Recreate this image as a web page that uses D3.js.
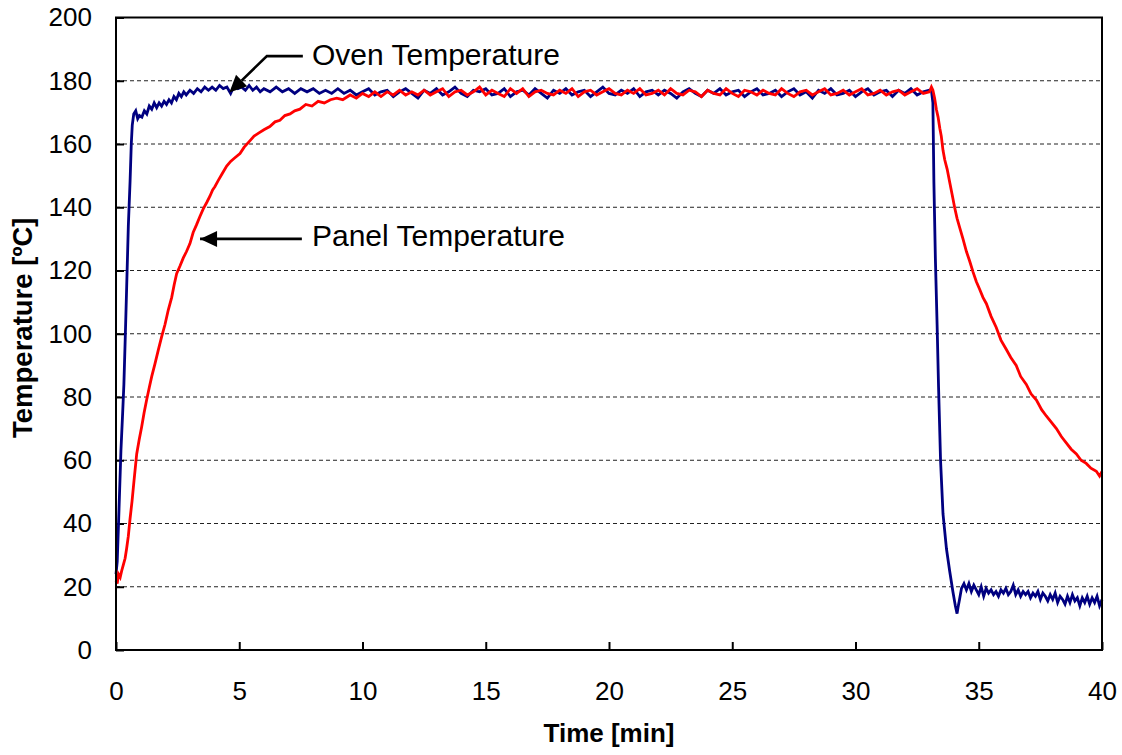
<!DOCTYPE html>
<html>
<head>
<meta charset="utf-8">
<script src="https://cdn.jsdelivr.net/npm/d3@7"></script>
<style>
  html, body { margin: 0; padding: 0; background: #fff; }
  svg { display: block; font-family: "Liberation Sans", Arial, sans-serif; }
</style>
</head>
<body>
<div id="chart"></div>
<script>
// valeurs : [temps (min), température (°C)]
const xTicks = [0, 5, 10, 15, 20, 25, 30, 35, 40];
const yTicks = [0, 20, 40, 60, 80, 100, 120, 140, 160, 180, 200];

const ovenTemp = [
  [0, 24], [0.05, 28], [0.12, 44], [0.2, 63], [0.27, 75], [0.32, 84], [0.38, 100], [0.43, 114],
  [0.5, 134], [0.57, 148], [0.62, 160], [0.66, 166], [0.72, 169.5], [0.8, 170.5], [0.88, 168],
  [0.95, 169], [1.05, 168.5], [1.15, 170.5], [1.25, 169.5], [1.35, 172], [1.45, 171], [1.55, 173],
  [1.65, 171.5], [1.75, 173], [1.85, 172], [1.95, 173.5], [2.05, 172.5], [2.15, 174], [2.25, 173],
  [2.35, 175], [2.45, 174], [2.55, 176], [2.65, 175], [2.75, 176.5], [2.85, 175.5], [3, 177],
  [3.15, 176], [3.3, 177.5], [3.45, 176.5], [3.6, 178], [3.75, 177], [3.9, 178], [4.05, 177],
  [4.2, 178.5], [4.35, 177.5], [4.5, 178], [4.65, 176], [4.8, 178.5], [4.95, 177.5], [5.1, 178],
  [5.25, 177], [5.4, 178.5], [5.55, 177], [5.7, 178], [5.85, 176.5], [6, 177.5], [6.25, 176.5],
  [6.5, 178], [6.75, 176.5], [7, 177.5], [7.25, 176], [7.5, 177.5], [7.75, 176.5], [8, 177.5],
  [8.25, 176], [8.5, 177], [8.75, 176], [9, 177.5], [9.25, 176], [9.5, 177], [9.75, 175.5],
  [10, 176.5], [10.25, 177.5], [10.5, 175.5], [10.75, 176.5], [11, 177], [11.25, 175], [11.5, 176.5],
  [11.75, 177.5], [12, 176], [12.25, 174.5], [12.5, 177], [12.75, 176], [13, 177.5], [13.25, 175.5],
  [13.5, 176.5], [13.75, 178], [14, 176], [14.25, 175], [14.5, 177], [14.75, 176.5], [15, 177.5],
  [15.25, 175.5], [15.5, 176], [15.75, 177.5], [16, 175], [16.25, 176.5], [16.5, 177], [16.75, 175.5],
  [17, 177.5], [17.25, 176], [17.5, 174.5], [17.75, 177], [18, 176], [18.25, 177.5], [18.5, 175.5],
  [18.75, 176.5], [19, 177], [19.25, 175], [19.5, 176.5], [19.75, 178], [20, 176], [20.25, 175.5],
  [20.5, 177], [20.75, 176], [21, 177.5], [21.25, 175], [21.5, 176.5], [21.75, 177], [22, 175.5],
  [22.25, 177], [22.5, 176], [22.75, 174.5], [23, 176.5], [23.25, 177.5], [23.5, 176], [23.75, 175],
  [24, 177], [24.25, 176], [24.5, 177.5], [24.75, 175.5], [25, 176.5], [25.25, 177], [25.5, 175],
  [25.75, 176.5], [26, 177.5], [26.25, 175.5], [26.5, 176], [26.75, 177], [27, 175], [27.25, 176.5],
  [27.5, 177.5], [27.75, 175.5], [28, 176.5], [28.25, 174.5], [28.5, 177], [28.75, 176], [29, 177.5],
  [29.25, 175.5], [29.5, 176], [29.75, 177], [30, 175], [30.25, 176.5], [30.5, 177.5], [30.75, 175.5],
  [31, 176.5], [31.25, 177], [31.5, 175], [31.75, 177], [32, 176], [32.25, 177.5], [32.5, 175.5],
  [32.75, 176.5], [33, 177], [33.08, 177], [33.14, 173], [33.18, 148], [33.24, 124], [33.31, 103],
  [33.37, 83], [33.45, 60], [33.55, 43], [33.69, 32], [33.82, 25], [33.95, 18.5], [34.05, 14],
  [34.12, 11.5], [34.16, 13.5], [34.22, 16], [34.3, 19.5], [34.4, 21], [34.5, 19], [34.6, 21],
  [34.7, 18.5], [34.8, 20.5], [34.9, 19], [35, 17.5], [35.1, 20], [35.2, 17], [35.3, 19.5], [35.4, 18],
  [35.5, 19], [35.6, 17.5], [35.7, 18.5], [35.8, 17], [35.9, 19], [36, 18], [36.1, 19.5], [36.2, 17.5],
  [36.3, 18.5], [36.4, 20.5], [36.5, 17.5], [36.6, 19], [36.7, 17], [36.8, 18.5], [36.9, 17.5],
  [37, 18.5], [37.1, 16.5], [37.2, 18], [37.3, 17], [37.4, 18.5], [37.5, 16], [37.6, 18], [37.7, 17],
  [37.8, 15.5], [37.9, 17.5], [38, 16], [38.1, 18], [38.2, 15], [38.3, 17], [38.4, 16], [38.5, 14.5],
  [38.6, 17], [38.7, 15], [38.8, 17.5], [38.9, 15.5], [39, 16.5], [39.1, 14], [39.2, 16.5], [39.3, 15],
  [39.4, 17], [39.5, 14.5], [39.6, 16.5], [39.7, 15], [39.8, 17], [39.9, 14], [40, 16]
];

const panelTemp = [
  [0, 22], [0.05, 21], [0.1, 24], [0.17, 23], [0.23, 25], [0.3, 27], [0.37, 29], [0.43, 32], [0.5, 36],
  [0.57, 41.5], [0.65, 47], [0.73, 53.5], [0.84, 62], [0.94, 66.5], [1.04, 70.5], [1.14, 75], [1.24, 79],
  [1.35, 83], [1.45, 86.5], [1.58, 90.5], [1.72, 95], [1.85, 99], [1.99, 103], [2.12, 107.5],
  [2.26, 111.5], [2.36, 115.5], [2.46, 119], [2.6, 121.5], [2.73, 124], [2.86, 126], [3, 128.5],
  [3.13, 132], [3.27, 134.5], [3.4, 137], [3.54, 139.5], [3.68, 141.5], [3.81, 143.5], [3.92, 145.5],
  [4.01, 146.5], [4.15, 148.5], [4.3, 150.5], [4.49, 153], [4.65, 154.5], [4.8, 155.5], [5.03, 157],
  [5.2, 159], [5.43, 161], [5.6, 162.5], [5.8, 163.5], [6, 164.5], [6.24, 165.5], [6.45, 167],
  [6.65, 167.5], [6.85, 169], [7.06, 169.5], [7.25, 170.5], [7.46, 171], [7.7, 172.5], [7.95, 172],
  [8.2, 173.5], [8.45, 173], [8.7, 174], [8.95, 174.5], [9.2, 174], [9.5, 175.5], [9.75, 174.5],
  [10, 176], [10.25, 175], [10.5, 176.5], [10.75, 175], [11, 176.5], [11.25, 175.5], [11.5, 177],
  [11.75, 175.5], [12, 176.5], [12.25, 175.5], [12.5, 177], [12.75, 175.5], [13, 176.5], [13.25, 177.5],
  [13.5, 175], [13.75, 176.5], [14, 177], [14.25, 175.5], [14.5, 176.5], [14.75, 178], [15, 175.5],
  [15.25, 177], [15.5, 176], [15.75, 175], [16, 177.5], [16.25, 176], [16.5, 177.5], [16.75, 175],
  [17, 176.5], [17.25, 177], [17.5, 176], [17.75, 175.5], [18, 177], [18.25, 176], [18.5, 177.5],
  [18.75, 175], [19, 176.5], [19.25, 177], [19.5, 175.5], [19.75, 176.5], [20, 177.5], [20.25, 176],
  [20.5, 175.5], [20.75, 177], [21, 176], [21.25, 177.5], [21.5, 175.5], [21.75, 176], [22, 177],
  [22.25, 175.5], [22.5, 177.5], [22.75, 176], [23, 175.5], [23.25, 177], [23.5, 176.5], [23.75, 175],
  [24, 177], [24.25, 176], [24.5, 175.5], [24.75, 177.5], [25, 176], [25.25, 175], [25.5, 177],
  [25.75, 176.5], [26, 175.5], [26.25, 177], [26.5, 176], [26.75, 175.5], [27, 177.5], [27.25, 176],
  [27.5, 175], [27.75, 176.5], [28, 177], [28.25, 175.5], [28.5, 176.5], [28.75, 177.5], [29, 175.5],
  [29.25, 176], [29.5, 177], [29.75, 175.5], [30, 176.5], [30.25, 177.5], [30.5, 175.5], [30.75, 176],
  [31, 177], [31.25, 175.5], [31.5, 176.5], [31.75, 177], [32, 175.5], [32.25, 176.5], [32.5, 177.5],
  [32.75, 176], [33, 176.5], [33.08, 178], [33.14, 177], [33.21, 174.5], [33.28, 171], [33.35, 168.5],
  [33.42, 165], [33.48, 162.5], [33.55, 158], [33.62, 155], [33.72, 152], [33.82, 148], [33.92, 144],
  [34.02, 140], [34.12, 136.5], [34.23, 133.5], [34.36, 130], [34.5, 126], [34.63, 123], [34.77, 119.5],
  [34.9, 116.5], [35.04, 114], [35.17, 111.5], [35.31, 109.5], [35.5, 105.5], [35.71, 102], [35.9, 98],
  [36.12, 95], [36.3, 92.5], [36.52, 90], [36.7, 86.5], [36.93, 84], [37.12, 81], [37.34, 79],
  [37.55, 76], [37.74, 74], [37.95, 72], [38.15, 70], [38.35, 67.5], [38.55, 65.5], [38.75, 63.5],
  [38.96, 62], [39.15, 60], [39.36, 59], [39.55, 57.5], [39.77, 56.5], [39.9, 55], [40, 56.5]
];

// annotations : pointe de la flèche, coude, fin du trait, texte (en coordonnées des données)
const notes = [
  { label: "Oven Temperature",  tip: [4.6, 176.3], bend: [6.12, 187.8], end: [7.58, 187.8], text: [7.95, 185] },
  { label: "Panel Temperature", tip: [3.41, 130],  bend: [3.41, 130],   end: [7.54, 130],   text: [7.95, 127.7] }
];

const W = 1122, H = 755;
const margin = { top: 17.5, right: 20, bottom: 105, left: 116 };

const svg = d3.select("#chart").append("svg")
  .attr("width", W)
  .attr("height", H);

svg.append("rect").attr("width", W).attr("height", H).attr("fill", "#fff");

const x = d3.scaleLinear().domain([0, 40]).range([margin.left, W - margin.right]);
const y = d3.scaleLinear().domain([0, 200]).range([H - margin.bottom, margin.top]);

// grille pointillée
svg.append("g")
  .selectAll("line")
  .data(yTicks.filter(d => d > 0 && d < 200))
  .join("line")
  .attr("x1", x(0)).attr("x2", x(40))
  .attr("y1", d => y(d)).attr("y2", d => y(d))
  .attr("stroke", "#222")
  .attr("stroke-width", 1)
  .attr("stroke-dasharray", "4,3");

// axes avec graduations vers l'intérieur
const yAxis = svg.append("g")
  .attr("transform", `translate(${x(0)},0)`)
  .call(d3.axisLeft(y).tickValues(yTicks).tickSizeInner(-8).tickSizeOuter(0).tickPadding(24));

const xAxis = svg.append("g")
  .attr("transform", `translate(0,${y(0)})`)
  .call(d3.axisBottom(x).tickValues(xTicks).tickSizeInner(-8).tickSizeOuter(0).tickPadding(32));

[yAxis, xAxis].forEach(g => {
  g.select(".domain").remove();
  g.selectAll(".tick line").attr("stroke", "#000").attr("stroke-width", 2);
  g.selectAll("text")
    .attr("font-family", "'Liberation Sans', Arial, sans-serif")
    .attr("font-size", 26)
    .attr("fill", "#000");
});

// courbes
const line = d3.line()
  .x(d => x(d[0]))
  .y(d => y(d[1]));

svg.append("path")
  .datum(ovenTemp)
  .attr("fill", "none")
  .attr("stroke", "#000080")
  .attr("stroke-width", 2.8)
  .attr("d", line);

svg.append("path")
  .datum(panelTemp)
  .attr("fill", "none")
  .attr("stroke", "#ff0000")
  .attr("stroke-width", 2.8)
  .attr("d", line);

// cadre du graphique
svg.append("rect")
  .attr("x", x(0)).attr("y", y(200))
  .attr("width", x(40) - x(0))
  .attr("height", y(0) - y(200))
  .attr("fill", "none")
  .attr("stroke", "#000")
  .attr("stroke-width", 2);

// flèches + étiquettes
notes.forEach(n => {
  const tip = [x(n.tip[0]), y(n.tip[1])];
  const bend = [x(n.bend[0]), y(n.bend[1])];
  const end = [x(n.end[0]), y(n.end[1])];
  const ang = Math.atan2(bend[1] - tip[1], bend[0] - tip[0]);
  const len = 17, half = 8;
  const base = [tip[0] + len * Math.cos(ang), tip[1] + len * Math.sin(ang)];

  svg.append("path")
    .attr("d", d3.line()([base, bend, end]))
    .attr("fill", "none")
    .attr("stroke", "#000")
    .attr("stroke-width", 2.6);

  svg.append("path")
    .attr("d", d3.line()([
      tip,
      [base[0] - half * Math.sin(ang), base[1] + half * Math.cos(ang)],
      [base[0] + half * Math.sin(ang), base[1] - half * Math.cos(ang)]
    ]) + "Z")
    .attr("fill", "#000");

  svg.append("text")
    .attr("x", x(n.text[0]))
    .attr("y", y(n.text[1]))
    .attr("font-size", 30)
    .attr("fill", "#000")
    .text(n.label);
});

// titres des axes
svg.append("text")
  .attr("x", (x(0) + x(40)) / 2)
  .attr("y", 742)
  .attr("text-anchor", "middle")
  .attr("font-size", 26)
  .attr("font-weight", "bold")
  .text("Time [min]");

svg.append("text")
  .attr("transform", `translate(32,${(y(0) + y(200)) / 2 - 6}) rotate(-90)`)
  .attr("text-anchor", "middle")
  .attr("font-size", 27.5)
  .attr("font-weight", "bold")
  .text("Temperature [ºC]");
</script>
</body>
</html>
